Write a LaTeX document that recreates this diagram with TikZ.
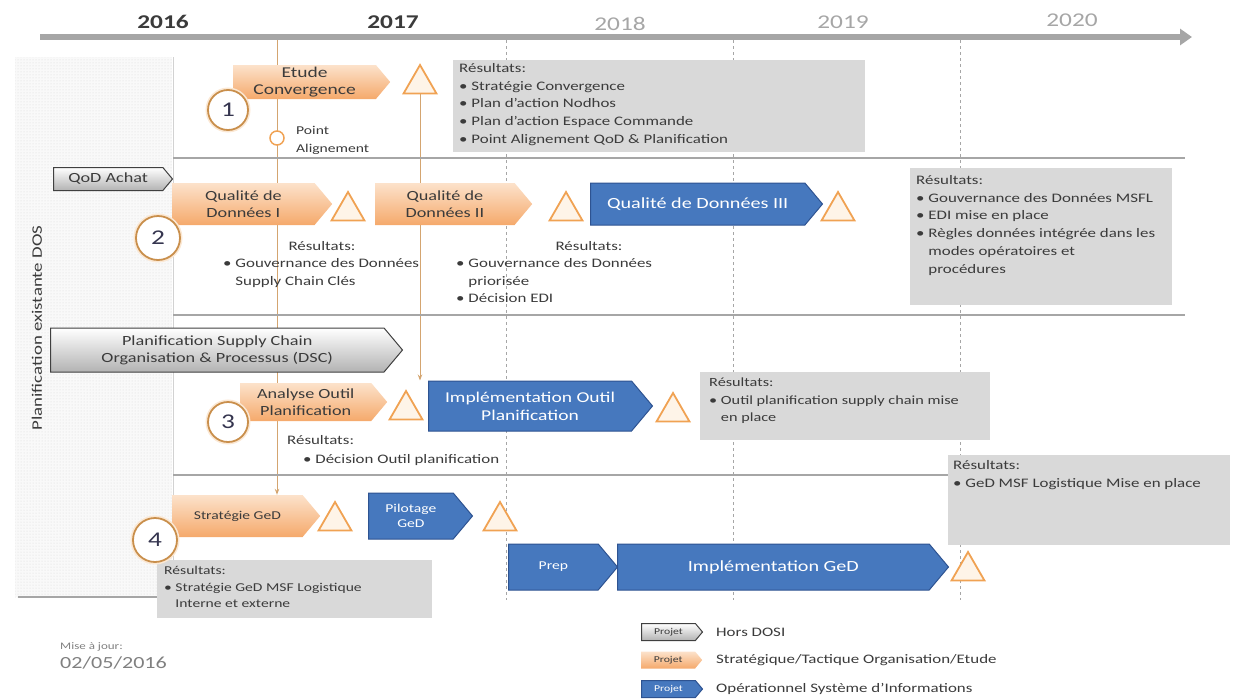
\documentclass[tikz,border=0pt]{standalone}
\usepackage{fontspec}
\setmainfont{Carlito}[FakeStretch=1.3]
\usepackage{xcolor}
\usepackage{tikz}
\usetikzlibrary{calc,positioning,arrows.meta,backgrounds,shapes.geometric,shapes.symbols,patterns}
\definecolor{Rule}{HTML}{A6A6A6}
\definecolor{Peach}{HTML}{FCE2CB}
\definecolor{Apricot}{HTML}{F5A96B}
\definecolor{Azure}{HTML}{4678BE}
\definecolor{Navy}{HTML}{2E5391}
\definecolor{Ochre}{HTML}{C98F4C}
\definecolor{Amber}{HTML}{F0A253}
\definecolor{Cream}{HTML}{FEF4E8}
\definecolor{Panel}{HTML}{D9D9D9}
\definecolor{Ink}{HTML}{3B3B3B}
\newcommand{\puce}{\textbullet\ }

\begin{document}
\begin{tikzpicture}[x=1pt,y=-1pt,
  phase/.style={signal,signal to=east,signal from=nowhere,signal pointer angle=100,anchor=west,align=center,inner sep=1pt,font=\fontsize{14}{17}\selectfont},
  strat/.style={phase,top color=Peach,bottom color=Apricot,text=Ink},
  oper/.style={phase,fill=Azure,draw=Navy,line width=1pt,text=white},
  hors/.style={phase,top color=white,bottom color=black!30,draw=black!75,line width=1pt,text=Ink},
  jalon/.style={regular polygon,regular polygon sides=3,minimum size=38pt,inner sep=0pt,draw=Amber,fill=Cream,line width=1.8pt},
  numero/.style={circle,minimum size=40pt,inner sep=0pt,draw=Ochre,fill=white,line width=1.8pt,preaction={draw=Amber!25,line width=5pt},text=Ink!90!blue,font=\fontsize{21}{21}\selectfont},
  resbox/.style={fill=Panel,anchor=north west,inner sep=0pt},
  note/.style={align=left,inner sep=0pt,text=Ink,font=\fontsize{13}{17.8}\selectfont},
  lien/.style={Ochre!80,line width=1pt},
  annee/.style={font=\fontsize{19.5}{20}\selectfont\bfseries}]
\useasboundingbox (0,0) rectangle (1233,699);

% timeline and grid
\fill[gray!5] (15,57) rectangle (172,597);
\fill[pattern=dots,pattern color=gray!30] (15,57) rectangle (172,597);
\draw[gray!35] (173,57)--(173,600);
\draw[Rule,line width=2pt] (18,597)--(160,597);
\foreach \y in {158,315,475}{\draw[Rule,line width=1.2pt] (173,\y)--(1185,\y);}
\foreach \x in {506,733,960}{\draw[Rule,dashed,line width=.8pt] (\x,40)--(\x,600);}
\coordinate (ta) at (40,37);
\coordinate (tb) at (1192,37);
\draw[Rule,line width=6pt,-{Triangle[length=12pt,width=16pt]}] (ta)--(tb);
\node[annee,text=Ink] (y16) at (163,22) {2016};
\node[annee,text=Ink] (y17) at (393,22) {2017};
\node[annee,text=Rule,font=\fontsize{19.5}{20}\selectfont] (y18) at (620,24) {2018};
\node[annee,text=Rule,font=\fontsize{19.5}{20}\selectfont] (y19) at (843,22) {2019};
\node[annee,text=Rule,font=\fontsize{19.5}{20}\selectfont] (y20) at (1072,20) {2020};
\coordinate (m1) at (277,40);
\node[rotate=90,text=Ink,font=\fontsize{14.5}{16}\selectfont] (dos) at (37,328) {Planification existante DOS};

% result boxes
\node[resbox,minimum width=412,minimum height=92] (r1) at (453,60) {};
\node[resbox,minimum width=262,minimum height=137] (r2) at (910,168) {};
\node[resbox,minimum width=290,minimum height=68] (r3) at (700,372) {};
\node[resbox,minimum width=282,minimum height=90] (r4) at (948,455) {};
\node[resbox,minimum width=275,minimum height=58] (r5) at (157,560) {};
\node[note,anchor=north west] (r1t) at ($(r1.north west)+(6,3)$) {Résultats:\\\puce Stratégie Convergence\\\puce Plan d'action Nodhos\\\puce Plan d'action Espace Commande\\\puce Point Alignement QoD \& Planification};
\node[note,anchor=north west] (r2t) at ($(r2.north west)+(6,7)$) {Résultats:\\\puce Gouvernance des Données MSFL\\\puce EDI mise en place\\\puce Règles données intégrée dans les\\\phantom{\puce}modes opératoires et\\\phantom{\puce}procédures};
\node[note,anchor=north west,font=\fontsize{12.5}{17.5}\selectfont] (r3t) at ($(r3.north west)+(9,6)$) {Résultats:\\\puce Outil planification supply chain mise\\\phantom{\puce}en place};
\node[note,anchor=north west] (r4t) at ($(r4.north west)+(5,5)$) {Résultats:\\\puce GeD MSF Logistique Mise en place};
\node[note,anchor=north west,font=\fontsize{12}{16.5}\selectfont] (r5t) at ($(r5.north west)+(7,6)$) {Résultats:\\\puce Stratégie GeD MSF Logistique\\\phantom{\puce}Interne et externe};

% row 1
\node[strat,minimum width=157,minimum height=34,font=\fontsize{15}{17}\selectfont] (etude) at (233,82) {Etude\\Convergence};
\node[jalon] (t1) at (420,84) {};
\node[circle,minimum size=14pt,inner sep=0pt,draw=Amber,fill=white,line width=1.5pt] (pa) at (277,138) {};
\node[note,anchor=west,font=\fontsize{12}{18}\selectfont] (pal) at (296,140) {Point\\Alignement};
\node[numero] (n1) at (228,110) {1};

% row 2
\node[hors,minimum width=119,minimum height=23,font=\fontsize{14}{15}\selectfont] (qoda) at (53,179) {QoD Achat};
\node[strat,minimum width=160,minimum height=42] (qd1) at (172,204) {Qualité de\\Données I};
\node[jalon] (t2) at (348,211) {};
\node[strat,minimum width=157,minimum height=42] (qd2) at (375,204) {Qualité de\\Données II};
\node[jalon] (t3) at (566,211) {};
\node[oper,minimum width=232,minimum height=42,font=\fontsize{15.5}{17}\selectfont] (qd3) at (590,204) {Qualité de Données III};
\node[jalon] (t4) at (838,211) {};
\node[numero,minimum size=44pt] (n2) at (158,238) {2};
\node[note] (res1h) at (322,246) {Résultats:};
\node[note,anchor=north west] (res1b) at (223,258) {\puce Gouvernance des Données\\\phantom{\puce}Supply Chain Clés};
\node[note] (res2h) at (589,246) {Résultats:};
\node[note,anchor=north west] (res2b) at (456,258) {\puce Gouvernance des Données\\\phantom{\puce}priorisée\\\puce Décision EDI};

% row 3
\node[hors,minimum width=352,minimum height=44] (psc) at (50,350) {Planification Supply Chain\\Organisation \& Processus (DSC)};
\node[strat,minimum width=147,minimum height=38] (aop) at (240,402) {Analyse Outil\\Planification};
\node[jalon] (t5) at (406,410) {};
\node[oper,minimum width=224,minimum height=50,font=\fontsize{15}{18}\selectfont] (iop) at (428,406) {Implémentation Outil\\Planification};
\node[jalon] (t6) at (673,412) {};
\node[numero] (n3) at (228,422) {3};
\node[note,anchor=west] (res3h) at (287,440) {Résultats:};
\node[note,anchor=west] (res3b) at (303,460) {\puce Décision Outil planification};

% row 4
\node[strat,minimum width=148,minimum height=42,font=\fontsize{12}{14}\selectfont] (sgd) at (172,516) {Stratégie GeD};
\node[jalon] (t7) at (335,521) {};
\node[oper,minimum width=104,minimum height=46,font=\fontsize{12}{15}\selectfont] (pgd) at (368,516) {Pilotage\\GeD};
\node[jalon] (t8) at (500,521) {};
\node[oper,minimum width=109,minimum height=46,font=\fontsize{12}{14}\selectfont] (prep) at (508,567) {Prep};
\node[oper,minimum width=331,minimum height=46,font=\fontsize{15.5}{17}\selectfont] (igd) at (617,567) {Implémentation GeD};
\node[jalon] (t9) at (968,571) {};
\node[numero,minimum size=44pt] (n4) at (155,540) {4};

% links behind the boxes
\begin{scope}[on background layer]
\draw[lien,-{Stealth[length=6pt]}] (m1)--(m1 |- sgd.north);
\draw[lien,-{Stealth[length=6pt]}] (t1.south)--(t1.south |- iop.north);
\end{scope}

% legend
\node[hors,minimum width=61,minimum height=17,font=\fontsize{9}{10}\selectfont] (lg1) at (641,632) {Projet};
\node[strat,minimum width=61,minimum height=17,font=\fontsize{9}{10}\selectfont] (lg2) at (641,660) {Projet};
\node[oper,minimum width=61,minimum height=17,font=\fontsize{9}{10}\selectfont] (lg3) at (641,689) {Projet};
\node[note,anchor=west,font=\fontsize{13}{14}\selectfont] (lg1t) at (716,632) {Hors DOSI};
\node[note,anchor=west,font=\fontsize{13}{14}\selectfont] (lg2t) at (716,660) {Stratégique/Tactique Organisation/Etude};
\node[note,anchor=west,font=\fontsize{13}{14}\selectfont] (lg3t) at (716,689) {Opérationnel Système d'Informations};
\node[note,anchor=west,text=gray,font=\fontsize{10}{12}\selectfont] (maj) at (60,647) {Mise à jour:};
\node[note,anchor=west,text=gray,font=\fontsize{17}{18}\selectfont] (date) at (60,663) {02/05/2016};
\end{tikzpicture}
\end{document}
